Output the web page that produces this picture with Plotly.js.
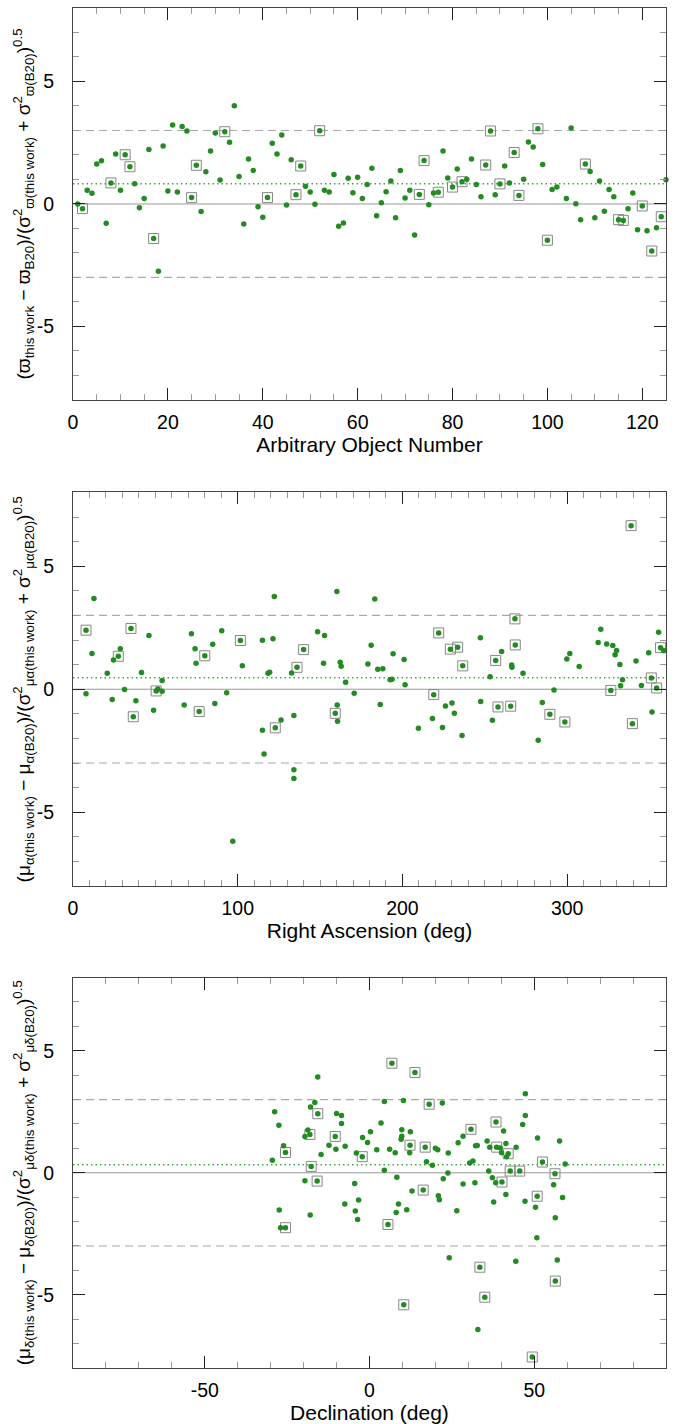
<!DOCTYPE html>
<html>
<head>
<meta charset="utf-8">
<script src="https://cdn.plot.ly/plotly-3.0.1.min.js"></script>
<style>html,body{margin:0;padding:0;background:#fff;}#plot{width:678px;height:1424px;}</style>
</head>
<body>
<div id="plot"></div>
<script>
// ---------- Panel 1: parallax vs arbitrary object number ----------
const p1_x = [1,2,3,4,5,6,7,8,9,10,11,12,13,14,15,16,17,18,19,20,21,22,23,24,25,26,27,28,29,30,31,32,33,34,35,36,37,38,39,40,41,42,43,44,45,46,47,48,49,50,51,52,53,54,55,56,57,58,59,60,61,62,63,64,65,66,67,68,69,70,71,72,73,74,75,76,77,78,79,80,81,82,83,84,85,86,87,88,89,90,91,92,93,94,95,96,97,98,99,100,101,102,104,105,106,107,108,109,110,111,112,113,114,115,116,117,118,119,120,121,122,123,124,125];
const p1_y = [0.00,-0.19,0.56,0.44,1.63,1.76,-0.79,0.86,2.04,0.56,2.01,1.52,0.83,-0.15,0.22,2.22,-1.41,-2.75,2.37,0.53,3.22,0.49,3.16,2.98,0.26,1.58,-0.31,1.32,2.16,2.90,0.98,2.95,2.52,4.01,1.12,-0.82,1.84,1.37,-0.11,-0.54,0.26,2.48,2.04,2.82,-0.04,1.81,0.38,1.55,0.72,0.49,-0.01,2.99,0.56,0.49,1.20,-0.91,-0.78,1.05,0.46,1.09,0.22,0.80,1.46,-0.48,0.05,0.50,0.94,-0.56,1.37,0.24,0.56,-1.27,0.39,1.77,-0.03,0.45,0.48,2.16,1.06,0.69,1.43,0.91,1.01,1.84,0.80,0.30,1.59,2.98,0.38,0.82,1.55,0.86,2.10,0.35,1.01,2.53,2.33,3.07,1.61,-1.48,0.59,0.69,0.22,3.10,0.01,-0.64,1.63,1.33,-0.56,0.94,-0.30,0.59,0.29,-0.64,-0.67,-0.19,0.45,-1.05,-0.08,-1.09,-1.92,-0.97,-0.52,0.99];
const p1_box = [0,1,0,0,0,0,0,1,0,0,1,1,0,0,0,0,1,0,0,0,0,0,0,0,1,1,0,0,0,0,0,1,0,0,0,0,0,0,0,0,1,0,0,0,0,0,1,1,0,0,0,1,0,0,0,0,0,0,0,0,0,0,0,0,0,0,0,0,0,0,0,0,1,1,0,0,1,0,0,1,0,1,0,0,0,0,1,1,0,1,0,0,1,1,0,0,0,1,0,1,0,0,0,0,0,0,1,0,0,0,0,0,0,1,1,0,0,0,1,0,1,0,1,0];
const p1_mean = 0.83;

// ---------- Panel 2: mu_alpha vs right ascension ----------
const p2_x = [7.9,7.9,11.5,12.7,20.8,23.8,24.6,27.5,28.7,31.3,35.2,36.6,38.2,41.6,46.1,48.9,50.5,51.5,54.1,54.1,67.5,71.9,74.1,74.7,76.6,80.0,84.8,86.1,90.3,93.3,97.0,101.6,102.8,115.0,115.0,116.0,118.4,119.4,121.4,122.2,122.8,126.3,132.7,134.1,134.1,134.1,136.0,140.0,148.5,152.7,152.1,159.2,160.2,160.4,160.6,162.2,162.8,165.5,170.7,179.0,181.0,183.2,185.0,186.5,188.1,192.5,193.7,194.3,201.0,201.6,209.7,218.2,219.0,222.0,224.3,226.1,229.1,230.1,231.5,233.5,236.2,236.6,247.3,247.5,253.2,254.6,256.6,258.0,260.2,265.7,266.3,266.5,268.3,268.5,273.2,282.4,284.9,289.5,292.0,298.6,299.8,301.6,307.3,318.8,320.4,324.0,326.5,327.7,329.1,330.0,332.0,332.4,333.6,338.8,339.6,341.8,345.1,349.5,351.1,351.5,354.3,355.5,356.7,358.6];
const p2_y = [2.40,-0.18,1.45,3.69,0.65,-0.42,1.19,1.34,1.65,-0.01,2.47,-1.12,-0.47,0.68,2.18,-0.85,-0.07,0.01,-0.08,0.35,-0.64,2.25,1.65,1.06,-0.91,1.36,1.83,-0.58,2.38,-0.14,-6.18,1.98,0.95,1.99,-1.67,-2.63,0.65,0.69,2.05,3.77,-1.57,-1.25,0.66,-1.07,-3.27,-3.63,0.89,1.61,2.34,2.18,1.06,-0.98,3.97,-0.64,-1.30,1.10,0.93,0.28,-0.16,1.03,1.79,3.67,0.81,-0.62,0.83,0.38,0.41,1.44,1.21,0.18,-1.59,-1.19,-0.22,2.29,-1.56,-0.68,1.63,-0.56,-0.98,1.71,-1.88,0.95,2.09,-0.50,0.51,-1.26,1.17,-0.72,1.53,-0.69,0.98,0.89,2.86,1.80,0.65,-2.07,-0.54,-1.02,-0.03,-1.33,1.23,1.45,0.92,1.90,2.44,1.84,-0.05,1.78,1.40,1.57,1.00,0.14,0.38,6.65,-1.40,1.15,0.15,1.48,0.46,-0.93,0.05,2.32,1.69,1.57];
const p2_box = [1,0,0,0,0,0,0,1,0,0,1,1,0,0,0,0,1,0,0,0,0,0,0,0,1,1,0,0,0,0,0,1,0,0,0,0,0,0,0,0,1,0,0,0,0,0,1,1,0,0,0,1,0,0,0,0,0,0,0,0,0,0,0,0,0,0,0,0,0,0,0,0,1,1,0,0,1,0,0,1,0,1,0,0,0,0,1,1,0,1,0,0,1,1,0,0,0,1,0,1,0,0,0,0,0,0,1,0,0,0,0,0,0,1,1,0,0,0,1,0,1,0,1,0];
const p2_mean = 0.47;

// ---------- Panel 3: mu_delta vs declination ----------
const p3_x = [-29.5,-28.8,-27.5,-27.4,-27.0,-26.1,-25.5,-25.5,-19.6,-19.6,-18.7,-18.1,-18.0,-17.9,-17.7,-16.6,-15.9,-15.7,-15.7,-14.7,-12.3,-10.4,-10.2,-10.0,-8.5,-8.5,-7.5,-7.4,-4.5,-4.3,-4.0,-3.3,-3.6,-2.2,-2.1,-0.6,0.3,2.2,3.5,4.5,4.5,5.6,6.1,6.8,7.8,8.3,8.1,8.8,9.8,9.8,9.6,10.3,10.4,11.3,12.2,12.3,12.4,12.9,13.8,16.3,16.9,17.3,18.1,19.1,20.0,20.7,20.9,21.2,22.1,22.4,23.8,23.9,24.2,26.5,26.9,28.4,28.4,30.4,30.8,31.4,32.0,32.2,32.7,32.9,33.5,35.0,35.7,36.2,36.5,37.3,37.7,38.3,38.4,38.6,39.7,40.1,40.2,40.7,41.4,41.4,41.6,42.1,42.7,44.5,44.4,45.6,46.5,47.2,47.3,47.3,49.4,50.4,50.9,50.8,51.0,52.5,55.9,56.3,56.4,56.4,57.0,57.7,58.6,59.4];
const p3_y = [0.51,2.50,1.95,-1.53,-2.25,1.11,0.83,-2.25,-0.33,1.49,1.75,1.57,-1.73,2.70,0.26,2.88,-0.34,3.92,2.42,0.75,1.13,1.49,0.96,2.43,2.35,2.02,-1.28,1.09,-0.44,-1.57,0.81,-1.12,-1.91,0.66,1.45,1.24,1.68,0.94,2.04,2.92,0.10,-2.12,0.96,4.49,0.82,-0.18,-1.63,-1.28,1.76,1.50,1.37,2.96,-5.41,-1.52,0.82,1.13,1.68,-0.75,4.11,-0.71,1.05,0.45,2.81,0.31,1.00,0.94,-0.94,-1.11,2.86,-0.25,-0.01,0.81,-3.48,-1.56,1.23,1.50,-0.46,0.40,1.78,0.48,-0.41,1.11,1.12,-6.42,-3.87,-5.10,1.30,0.07,1.05,-0.20,-1.20,-0.41,2.08,1.05,1.02,0.82,-0.38,1.71,1.20,-0.89,0.66,0.78,0.07,1.05,-3.63,0.07,1.98,-1.17,2.35,3.24,-7.55,-1.41,-0.96,-2.66,1.42,0.44,-0.49,-0.04,-1.84,-4.44,-3.57,1.30,-1.01,0.36];
const p3_box = [0,0,0,0,0,0,1,1,0,0,0,1,0,0,1,0,1,0,1,0,0,1,0,0,0,0,0,0,0,0,0,0,0,1,0,0,0,0,0,0,0,1,0,1,0,0,0,0,0,0,0,0,1,0,0,1,0,0,1,1,1,0,1,0,0,0,0,0,0,0,0,0,0,0,0,0,0,0,1,0,0,0,0,0,1,1,0,0,0,0,0,0,1,1,0,0,1,0,0,0,0,1,1,0,0,1,0,0,0,0,1,0,1,0,0,1,0,1,0,1,0,0,0,0];
const p3_mean = 0.33;

// ---------- Axis labels ----------
const xTitles = ['Arbitrary Object Number', 'Right Ascension (deg)', 'Declination (deg)'];
const yTitles = [
  '(ϖ<sub>this work</sub> − ϖ<sub>B20</sub>)/(σ<sup>2</sup><sub>ϖ(this work)</sub> + σ<sup>2</sup><sub>ϖ(B20)</sub>)<sup>0.5</sup>',
  '(μ<sub>α(this work)</sub> − μ<sub>α(B20)</sub>)/(σ<sup>2</sup><sub>μα(this work)</sub> + σ<sup>2</sup><sub>μα(B20)</sub>)<sup>0.5</sup>',
  '(μ<sub>δ(this work)</sub> − μ<sub>δ(B20)</sub>)/(σ<sup>2</sup><sub>μδ(this work)</sub> + σ<sup>2</sup><sub>μδ(B20)</sub>)<sup>0.5</sup>'
];
const yTickVals = [-5, 0, 5];
const yTickText = ['-5', '0', '5'];
const x1TickVals = [0, 20, 40, 60, 80, 100, 120];
const x2TickVals = [0, 100, 200, 300];
const x3TickVals = [-50, 0, 50];
const x3TickText = ['-50', '0', '50'];
const refLines = [-3, 3];

// ---------- Build ----------
const GREEN = 'rgb(34,139,34)';
const FONT = 'Liberation Sans, Arial, Helvetica, sans-serif';
const panels = [
  {x: p1_x, y: p1_y, box: p1_box, mean: p1_mean},
  {x: p2_x, y: p2_y, box: p2_box, mean: p2_mean},
  {x: p3_x, y: p3_y, box: p3_box, mean: p3_mean}
];
const traces = [];
const shapes = [];
panels.forEach((p, i) => {
  const xa = i === 0 ? 'x' : 'x' + (i + 1);
  const ya = i === 0 ? 'y' : 'y' + (i + 1);
  const xr = i === 0 ? 'x domain' : 'x' + (i + 1) + ' domain';
  shapes.push({type: 'line', xref: xr, yref: ya, x0: 0, x1: 1, y0: 0, y1: 0,
               line: {color: '#999', width: 1}, layer: 'below'});
  refLines.forEach(v => shapes.push({type: 'line', xref: xr, yref: ya, x0: 0, x1: 1, y0: v, y1: v,
               line: {color: '#aaa', width: 1.2, dash: '8px,5px'}, layer: 'below'}));
  shapes.push({type: 'line', xref: xr, yref: ya, x0: 0, x1: 1, y0: p.mean, y1: p.mean,
               line: {color: 'rgb(60,170,60)', width: 1.5, dash: '1.5px,3px'}, layer: 'below'});
  const bx = [], by = [];
  p.box.forEach((b, k) => { if (b) { bx.push(p.x[k]); by.push(p.y[k]); } });
  traces.push({x: bx, y: by, xaxis: xa, yaxis: ya, type: 'scatter', mode: 'markers',
               marker: {symbol: 'square-open', size: 10, color: '#888', line: {width: 1, color: '#888'}},
               hoverinfo: 'skip', showlegend: false, cliponaxis: false});
  traces.push({x: p.x, y: p.y, xaxis: xa, yaxis: ya, type: 'scatter', mode: 'markers',
               marker: {symbol: 'circle', size: 5.5, color: GREEN}, showlegend: false, cliponaxis: false});
});

function xAxis(range, tickvals, ticktext, dminor, title, anchor) {
  return {
    range: range, tickmode: 'array', tickvals: tickvals, ticktext: ticktext,
    ticks: 'inside', ticklen: 12, tickcolor: '#222', tickwidth: 1,
    minor: {dtick: dminor, tick0: 0, ticks: 'inside', ticklen: 6, tickcolor: '#999', tickwidth: 1, showgrid: false},
    showline: true, linecolor: '#444', linewidth: 1, mirror: 'ticks',
    showgrid: false, zeroline: false, anchor: anchor,
    tickfont: {size: 19.5, color: '#000', family: FONT},
    ticklabelstandoff: 5,
    title: {text: title, font: {size: 21, color: '#000', family: FONT}, standoff: 0}
  };
}
function yAxis(domain, title, anchor) {
  return {
    range: [-8, 8], domain: domain, tickmode: 'array', tickvals: yTickVals, ticktext: yTickText,
    ticks: 'inside', ticklen: 12, tickcolor: '#222', tickwidth: 1,
    minor: {dtick: 1, tick0: 0, ticks: 'inside', ticklen: 6, tickcolor: '#999', tickwidth: 1, showgrid: false},
    showline: true, linecolor: '#444', linewidth: 1, mirror: 'ticks',
    showgrid: false, zeroline: false, anchor: anchor,
    tickfont: {size: 19.5, color: '#000', family: FONT},
    ticklabelstandoff: 14,
    title: {text: title, font: {size: 19, color: '#000', family: FONT}, standoff: 0}
  };
}

const layout = {
  width: 678, height: 1424,
  margin: {l: 73, r: 12, t: 8, b: 56},
  paper_bgcolor: '#fff', plot_bgcolor: '#fff',
  font: {family: FONT, color: '#000'},
  showlegend: false,
  xaxis: xAxis([0, 125], x1TickVals, x1TickVals.map(String), 5, xTitles[0], 'y'),
  yaxis: yAxis([0.7118, 1], yTitles[0], 'x'),
  xaxis2: xAxis([0, 360], x2TickVals, x2TickVals.map(String), 10, xTitles[1], 'y2'),
  yaxis2: yAxis([0.3544, 0.6438], yTitles[1], 'x2'),
  xaxis3: xAxis([-90, 90], x3TickVals, x3TickText, 10, xTitles[2], 'y3'),
  yaxis3: yAxis([0, 0.2871], yTitles[2], 'x3'),
  shapes: shapes
};
Plotly.newPlot('plot', traces, layout, {displayModeBar: false, staticPlot: true});
</script>
</body>
</html>
